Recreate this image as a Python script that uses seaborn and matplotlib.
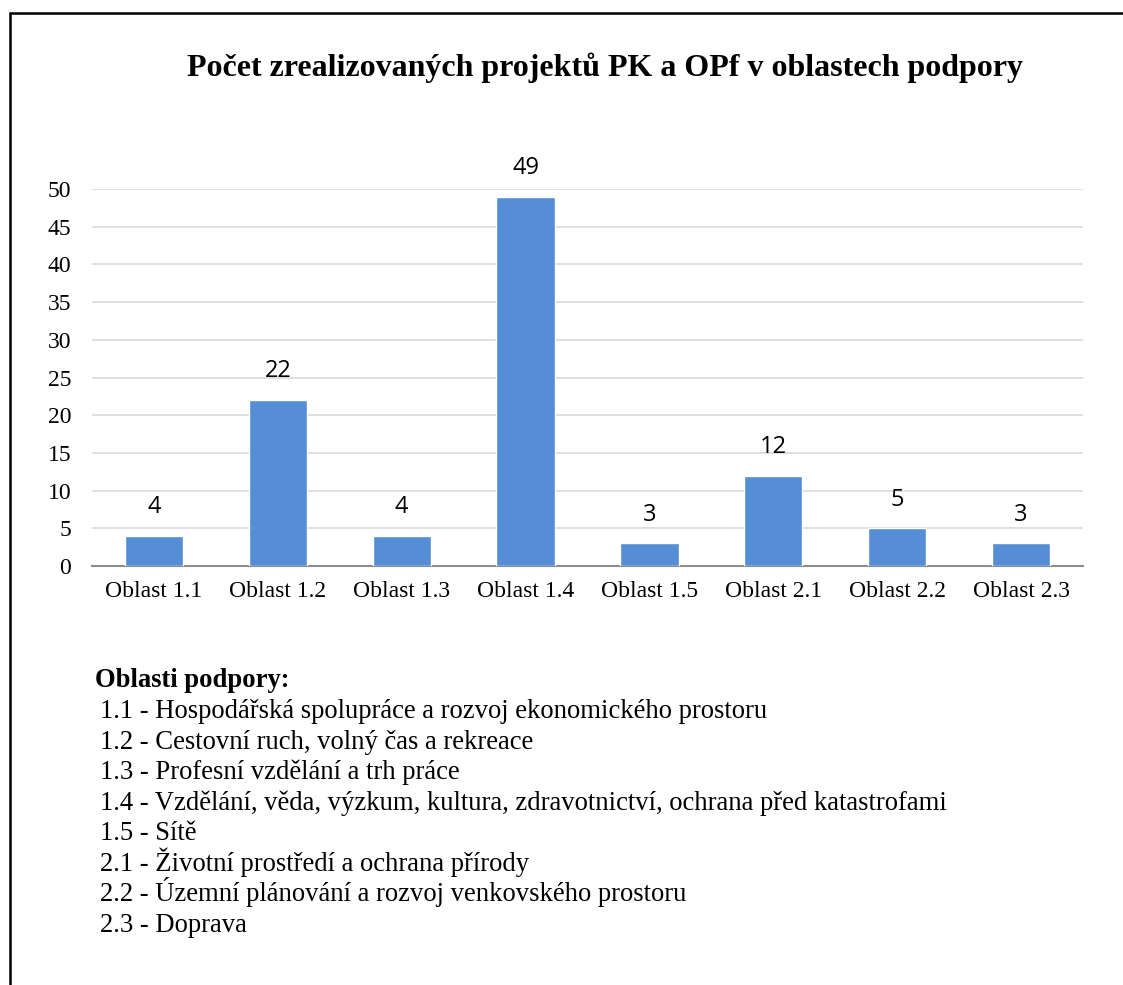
"""
Počet zrealizovaných projektů PK a OPf v oblastech podpory - sloupcový graf
"""

import pandas as pd
import matplotlib.pyplot as plt
import seaborn as sns
from matplotlib.lines import Line2D

# data
oblasti = ['Oblast 1.1', 'Oblast 1.2', 'Oblast 1.3', 'Oblast 1.4',
           'Oblast 1.5', 'Oblast 2.1', 'Oblast 2.2', 'Oblast 2.3']
pocty = [4, 22, 4, 49, 3, 12, 5, 3]

nadpis = 'Počet zrealizovaných projektů PK a OPf v oblastech podpory'
legenda_nadpis = 'Oblasti podpory:'
legenda_radky = [
    '1.1 - Hospodářská spolupráce a rozvoj ekonomického prostoru',
    '1.2 - Cestovní ruch, volný čas a rekreace',
    '1.3 - Profesní vzdělání a trh práce',
    '1.4 - Vzdělání, věda, výzkum, kultura, zdravotnictví, ochrana před katastrofami',
    '1.5 - Sítě',
    '2.1 - Životní prostředí a ochrana přírody',
    '2.2 - Územní plánování a rozvoj venkovského prostoru',
    '2.3 - Doprava',
]

SERIF = ['Liberation Serif', 'DejaVu Serif']
SANS = ['Open Sans', 'DejaVu Sans']
BAR_COLOR = '#558ED5'
H = 985.0


def main():
    sns.set_theme(style='white')
    plt.rcParams['font.family'] = SERIF
    plt.rcParams['text.color'] = 'black'

    df = pd.DataFrame({'Oblast': oblasti, 'Pocet': pocty})

    fig = plt.figure(figsize=(11.23, 9.85), dpi=100)
    ax = fig.add_axes([0.0819, 0.4254, 0.8825, 0.3827])

    sns.barplot(data=df, x='Oblast', y='Pocet', color=BAR_COLOR,
                saturation=1, width=0.47, ax=ax, zorder=3)

    ax.set_ylim(0, 50)
    ax.set_xlim(-0.5, len(oblasti) - 0.5)
    ax.set_yticks(range(0, 51, 5))
    ax.yaxis.grid(True, color='#d9d9d9', linewidth=1.2, zorder=0)
    ax.set_axisbelow(True)
    ax.set_xlabel('')
    ax.set_ylabel('')
    for side in ['top', 'right', 'left']:
        ax.spines[side].set_visible(False)
    ax.spines['bottom'].set_color('#8c8c8c')
    ax.spines['bottom'].set_linewidth(1.5)
    ax.tick_params(axis='both', length=0, labelsize=17, labelcolor='black')
    ax.tick_params(axis='y', pad=15)
    ax.tick_params(axis='x', pad=11)

    # popisky hodnot
    for i, v in enumerate(pocty):
        ax.annotate(str(v), (i, v), xytext=(0, 12), textcoords='offset points',
                    ha='center', va='bottom', fontsize=17, family=SANS,
                    color='black')

    fig.text(0.539, 1 - 76 / H, nadpis, ha='center', va='baseline',
             fontsize=23, fontweight='bold', family=SERIF)

    # legenda pod grafem
    fig.text(95 / 1123, 1 - 687 / H, legenda_nadpis, ha='left',
             va='baseline', fontsize=19.2, fontweight='bold', family=SERIF)
    for k, radek in enumerate(legenda_radky):
        y = 718 + k * 30.57
        fig.text(100 / 1123, 1 - y / H, radek, ha='left', va='baseline',
                 fontsize=19.2, family=SERIF)

    # rámeček (horní a levá čára)
    fig.add_artist(Line2D([0.0089, 1.0], [0.9868, 0.9868],
                          transform=fig.transFigure, color='black', lw=1.8))
    fig.add_artist(Line2D([0.0089, 0.0089], [0.0, 0.9868],
                          transform=fig.transFigure, color='black', lw=1.8))

    fig.savefig('out.png', dpi=100)
    plt.close(fig)


if __name__ == '__main__':
    main()
